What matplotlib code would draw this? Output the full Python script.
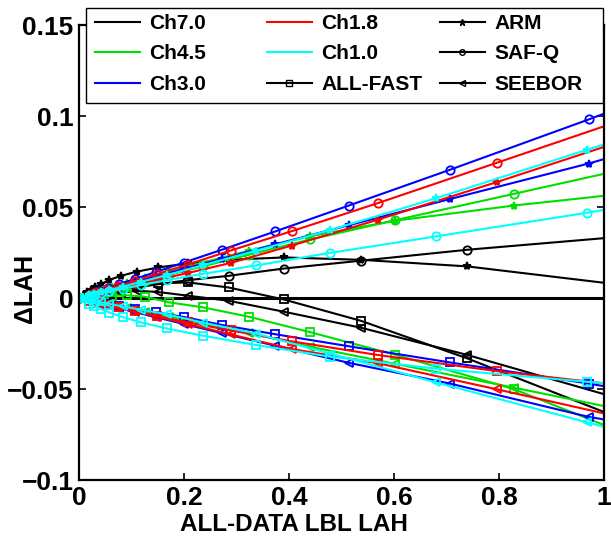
import matplotlib
matplotlib.use('Agg')
import matplotlib.pyplot as plt
from matplotlib.lines import Line2D
from matplotlib.patches import Rectangle

plt.rcParams['font.family'] = ['Liberation Sans', 'DejaVu Sans']
plt.rcParams['font.weight'] = 'bold'

channels = ['Ch7.0', 'Ch4.5', 'Ch3.0', 'Ch1.8', 'Ch1.0']
channel_colors = ['#000000', '#00e000', '#0000ff', '#ff0000', '#00ffff']
datasets = ['ARM', 'SAF-Q', 'ALL-FAST', 'SEEBOR']
dataset_markers = ['*', 'o', 's', '<']

# LBL LAH per channel (x) and delta LAH per dataset (y)
ch70_x = [0.0, 0.016, 0.022, 0.030, 0.042, 0.058, 0.080, 0.110, 0.151, 0.207, 0.285, 0.390, 0.537, 0.739, 1.017]
ch70_arm = [0.0, 0.0035, 0.0046, 0.0060, 0.0077, 0.0100, 0.0122, 0.0145, 0.0168, 0.0190, 0.0210, 0.0223, 0.0210, 0.0174, 0.0078]
ch70_safq = [0.0, 0.0010, 0.0013, 0.0018, 0.0025, 0.0033, 0.0044, 0.0058, 0.0076, 0.0098, 0.0122, 0.0162, 0.0205, 0.0265, 0.0333]
ch70_allfast = [0.0, 0.0010, 0.0014, 0.0019, 0.0027, 0.0037, 0.0050, 0.0066, 0.0080, 0.0086, 0.0058, -0.0008, -0.0125, -0.0331, -0.0645]
ch70_seebor = [0.0, 0.0005, 0.0008, 0.0011, 0.0015, 0.0021, 0.0029, 0.0040, 0.0033, 0.0013, -0.0015, -0.0075, -0.0163, -0.0312, -0.0542]

ch45_x = [0.0, 0.024, 0.033, 0.046, 0.063, 0.092, 0.126, 0.172, 0.236, 0.324, 0.441, 0.603, 0.828, 1.137]
ch45_arm = [0.0, 0.0024, 0.0032, 0.0044, 0.0060, 0.0084, 0.0112, 0.0148, 0.0195, 0.0260, 0.0340, 0.0425, 0.0508, 0.0604]
ch45_safq = [0.0, 0.0019, 0.0026, 0.0036, 0.0049, 0.0070, 0.0095, 0.0128, 0.0174, 0.0238, 0.0322, 0.0428, 0.0572, 0.0770]
ch45_allfast = [0.0, 0.0005, 0.0007, 0.0009, 0.0012, 0.0015, 0.0007, -0.0024, -0.0051, -0.0103, -0.0188, -0.0312, -0.0500, -0.0855]
ch45_seebor = [0.0, -0.0014, -0.0020, -0.0028, -0.0038, -0.0055, -0.0075, -0.0102, -0.0140, -0.0193, -0.0268, -0.0362, -0.0492, -0.0674]

ch30_x = [0.0, 0.029, 0.040, 0.055, 0.077, 0.106, 0.146, 0.200, 0.272, 0.374, 0.514, 0.707, 0.971, 1.335]
ch30_arm = [0.0, 0.0026, 0.0035, 0.0047, 0.0065, 0.0088, 0.0118, 0.0160, 0.0215, 0.0295, 0.0400, 0.0544, 0.0739, 0.1040]
ch30_safq = [0.0, 0.0030, 0.0040, 0.0055, 0.0077, 0.0104, 0.0143, 0.0195, 0.0265, 0.0366, 0.0508, 0.0705, 0.0981, 0.1380]
ch30_allfast = [0.0, -0.0017, -0.0023, -0.0031, -0.0043, -0.0058, -0.0078, -0.0104, -0.0148, -0.0199, -0.0265, -0.0354, -0.0470, -0.0650]
ch30_seebor = [0.0, -0.0021, -0.0029, -0.0040, -0.0056, -0.0077, -0.0105, -0.0143, -0.0193, -0.0262, -0.0356, -0.0470, -0.0653, -0.0828]

ch18_x = [0.0, 0.020, 0.028, 0.039, 0.054, 0.075, 0.106, 0.148, 0.207, 0.289, 0.405, 0.569, 0.797, 1.116]
ch18_arm = [0.0, 0.0014, 0.0020, 0.0028, 0.0038, 0.0053, 0.0073, 0.0100, 0.0137, 0.0193, 0.0288, 0.0430, 0.0638, 0.0940]
ch18_safq = [0.0, 0.0018, 0.0025, 0.0034, 0.0047, 0.0066, 0.0093, 0.0131, 0.0184, 0.0261, 0.0367, 0.0521, 0.0744, 0.1057]
ch18_allfast = [0.0, -0.0014, -0.0019, -0.0027, -0.0037, -0.0051, -0.0071, -0.0098, -0.0134, -0.0178, -0.0238, -0.0313, -0.0402, -0.0507]
ch18_seebor = [0.0, -0.0014, -0.0020, -0.0027, -0.0037, -0.0052, -0.0073, -0.0102, -0.0143, -0.0200, -0.0280, -0.0358, -0.0502, -0.0709]

ch10_x = [0.0, 0.020, 0.029, 0.041, 0.058, 0.083, 0.118, 0.167, 0.236, 0.337, 0.478, 0.681, 0.967, 1.373]
ch10_arm = [0.0, 0.0015, 0.0022, 0.0031, 0.0044, 0.0062, 0.0089, 0.0126, 0.0180, 0.0260, 0.0373, 0.0549, 0.0814, 0.1180]
ch10_safq = [0.0, 0.0013, 0.0019, 0.0026, 0.0036, 0.0051, 0.0071, 0.0098, 0.0133, 0.0179, 0.0248, 0.0339, 0.0468, 0.0670]
ch10_allfast = [0.0, -0.0031, -0.0044, -0.0060, -0.0080, -0.0104, -0.0134, -0.0167, -0.0207, -0.0258, -0.0322, -0.0388, -0.0460, -0.0560]
ch10_seebor = [0.0, -0.0011, -0.0016, -0.0023, -0.0032, -0.0046, -0.0064, -0.0089, -0.0135, -0.0195, -0.0305, -0.0464, -0.0682, -0.1000]

x_ticks = [0, 0.2, 0.4, 0.6, 0.8, 1]
x_tick_labels = ['0', '0.2', '0.4', '0.6', '0.8', '1']
y_ticks = [-0.1, -0.05, 0, 0.05, 0.1, 0.15]
y_tick_labels = ['\u22120.1', '\u22120.05', '0', '0.05', '0.1', '0.15']

series = {
    'Ch7.0': (ch70_x, [ch70_arm, ch70_safq, ch70_allfast, ch70_seebor]),
    'Ch4.5': (ch45_x, [ch45_arm, ch45_safq, ch45_allfast, ch45_seebor]),
    'Ch3.0': (ch30_x, [ch30_arm, ch30_safq, ch30_allfast, ch30_seebor]),
    'Ch1.8': (ch18_x, [ch18_arm, ch18_safq, ch18_allfast, ch18_seebor]),
    'Ch1.0': (ch10_x, [ch10_arm, ch10_safq, ch10_allfast, ch10_seebor]),
}

W, H = 611, 544
fig = plt.figure(figsize=(W / 100, H / 100), dpi=100)
ax = fig.add_axes([0.1293, 0.1176, 0.859, 0.8364])

ax.axhline(0, color='k', lw=2.2, zorder=1)

for ch, color in zip(channels, channel_colors):
    xs, ys_list = series[ch]
    for ys, m in zip(ys_list, dataset_markers):
        filled = m == '*'
        ax.plot(xs, ys, color=color, lw=1.5, marker=m,
                ms=6 if filled else 6, mew=1.3,
                mfc=color if filled else 'none', mec=color, zorder=2)

ax.set_xlim(0, 1)
ax.set_ylim(-0.1, 0.15)
ax.set_xticks(x_ticks)
ax.set_xticklabels(x_tick_labels)
ax.set_yticks(y_ticks)
ax.set_yticklabels(y_tick_labels)
ax.tick_params(direction='in', length=5, width=1.2, top=True, right=True,
               labelsize=19, pad=4)
for s in ax.spines.values():
    s.set_linewidth(1.6)

ax.set_xlabel('ALL-DATA LBL LAH', fontsize=17.5, fontweight='bold')
ax.set_ylabel('\u0394LAH', fontsize=18, fontweight='bold')
ax.xaxis.set_label_coords(0.41, -0.072)
ax.yaxis.set_label_coords(-0.08, 0.42)

# legend: white box with three equal-width columns
fig.add_artist(Rectangle((86 / W, 1 - 103 / H), (603 - 86) / W, 95 / H,
                         transform=fig.transFigure, facecolor='white',
                         edgecolor='k', lw=1.0, zorder=3))

handles = [Line2D([], [], color=c, lw=1.5) for c in channel_colors]
labels = list(channels)
for name in ['ALL-FAST', 'ARM', 'SAF-Q', 'SEEBOR']:
    m = dataset_markers[datasets.index(name)]
    filled = m == '*'
    handles.append(Line2D([], [], color='k', lw=1.5, marker=m, ms=5 if filled else 4,
                          mfc='k' if filled else 'none', mec='k', mew=1.0))
    labels.append(name)

col_left = [95, 267, 440]
for i, x0 in enumerate(col_left):
    leg = fig.legend(handles[3 * i:3 * i + 3], labels[3 * i:3 * i + 3],
                     loc='upper left', bbox_to_anchor=(x0 / W, 1 - 14 / H),
                     frameon=False, fontsize=15, borderpad=0, borderaxespad=0,
                     labelspacing=0.55, handlelength=2.15, handletextpad=0.45)
    leg.set_zorder(4)

fig.savefig('out.png', dpi=100)
